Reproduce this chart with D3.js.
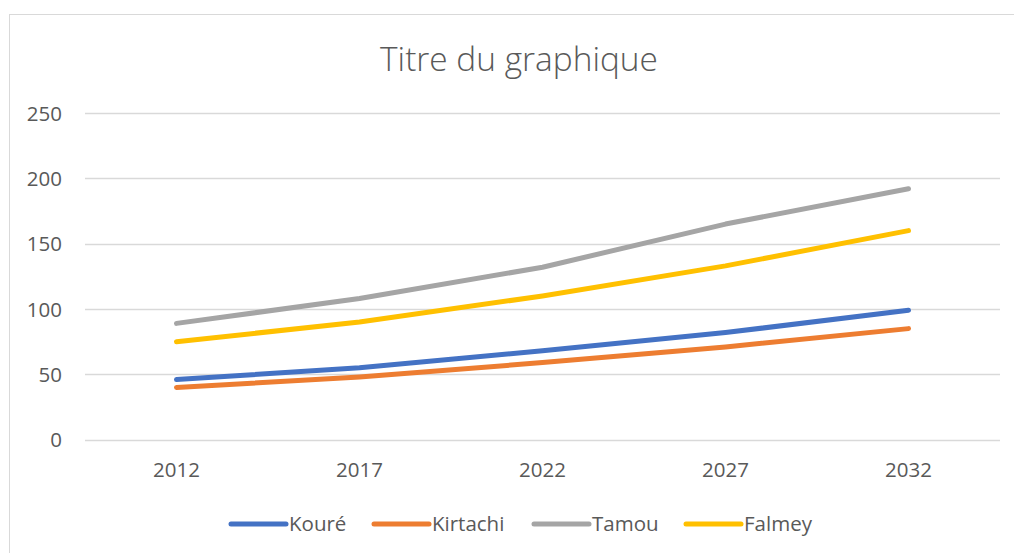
<!DOCTYPE html>
<html><head><meta charset="utf-8">
<script src="https://cdn.jsdelivr.net/npm/d3@7"></script>
<style>html,body{margin:0;padding:0;background:#fff;}svg{display:block;}</style>
</head><body>
<script>
const categories = ["2012","2017","2022","2027","2032"];
const seriesNames = ["Kouré","Kirtachi","Tamou","Falmey"];
const koure    = [46, 55, 68, 82, 99];
const kirtachi = [40, 48, 59, 71, 85];
const tamou    = [89, 108, 132, 165, 192];
const falmey   = [75, 90, 110, 133, 160];
const yTicks = [0, 50, 100, 150, 200, 250];
const colors = ["#4472C4","#ED7D31","#A5A5A5","#FFC000"];
const title = "Titre du graphique";

const series = [koure, kirtachi, tamou, falmey].map((v,i)=>({name:seriesNames[i], values:v, color:colors[i]}));

const W=1014,H=553;
const svg=d3.select("body").append("svg").attr("width",W).attr("height",H);
const font="'Open Sans', sans-serif";
const textColor="#595959";
const fs=20.5;

svg.append("rect").attr("x",9.5).attr("y",14.5).attr("width",1010).attr("height",560)
  .attr("fill","#fff").attr("stroke","#D9D9D9").attr("stroke-width",1);

const x=d3.scaleBand().domain(categories).range([85,1000]).padding(0);
const y=d3.scaleLinear().domain([0,250]).range([439.7,113]);

// grid
svg.append("g").selectAll("line").data(yTicks).join("line")
  .attr("x1",85).attr("x2",1000)
  .attr("y1",d=>Math.round(y(d))+0.5).attr("y2",d=>Math.round(y(d))+0.5)
  .attr("stroke","#D9D9D9").attr("stroke-width",1.3);

// y axis labels
const yAxis=d3.axisLeft(y).tickValues(yTicks).tickSize(0).tickPadding(0);
const gy=svg.append("g").attr("transform","translate(62,0)").call(yAxis);
gy.select(".domain").remove();
gy.selectAll("text").attr("font-family",font).attr("font-size",fs).attr("fill",textColor).attr("dy","0.35em");

// x axis labels
const xAxis=d3.axisBottom(x).tickSize(0).tickPadding(0);
const gx=svg.append("g").attr("transform","translate(0,470)").call(xAxis);
gx.select(".domain").remove();
gx.selectAll("text").attr("font-family",font).attr("font-size",fs).attr("fill",textColor).attr("dy","0.35em");

// lines
const line=d3.line().x((d,i)=>x(categories[i])+x.bandwidth()/2).y(d=>y(d));
svg.append("g").selectAll("path").data(series).join("path")
  .attr("d",d=>line(d.values)).attr("fill","none").attr("stroke",d=>d.color)
  .attr("stroke-width",5).attr("stroke-linecap","round").attr("stroke-linejoin","round");

// title
const t=svg.append("text").attr("x",519).attr("y",71).attr("text-anchor","middle")
  .attr("font-family",font).attr("font-weight",300).attr("font-size",32).attr("fill",textColor).text(title);
const tw=t.node().getComputedTextLength();
t.attr("font-size",32*278/tw);

// legend
const legendX=[231,374,534,686];
const lg=svg.append("g").selectAll("g").data(series).join("g")
  .attr("transform",(d,i)=>`translate(${legendX[i]},524)`);
lg.append("line").attr("x1",0).attr("x2",55).attr("y1",0).attr("y2",0)
  .attr("stroke",d=>d.color).attr("stroke-width",5).attr("stroke-linecap","round");
lg.append("text").attr("x",58).attr("y",0).attr("dy","0.35em")
  .attr("font-family",font).attr("font-size",fs).attr("fill",textColor).text(d=>d.name);
</script>
</body></html>
